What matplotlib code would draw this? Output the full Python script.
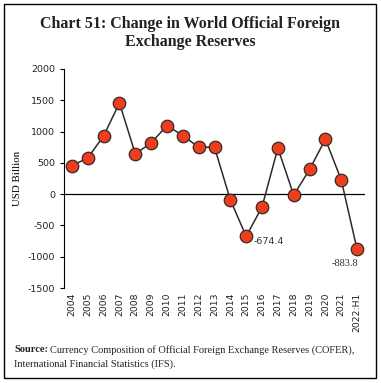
import numpy as np
import matplotlib
matplotlib.use("Agg")
import matplotlib.pyplot as plt
from matplotlib.patches import Rectangle

plt.rcParams["axes.unicode_minus"] = False

years = ["2004", "2005", "2006", "2007", "2008", "2009", "2010", "2011", "2012",
         "2013", "2014", "2015", "2016", "2017", "2018", "2019", "2020", "2021",
         "2022:H1"]
change = [455, 578, 930, 1457, 644, 818, 1096, 936, 750,
          750, -92, -674.4, -205, 736, -16, 394, 878, 229, -883.8]

fig = plt.figure(figsize=[3.81, 3.83], dpi=100)
ax = fig.add_axes([64 / 381, 1 - 288 / 383, (365 - 64) / 381, (288 - 69) / 383])

x = np.arange(len(years))
ax.plot(x, change, color="#2b2b2b", lw=1.1, marker="o", ms=9,
        mfc="#ee3d1f", mec="#3a2a22", mew=0.9, zorder=3)
ax.axhline(0, color="black", lw=0.9, zorder=1)

ax.set_xlim(-0.5, len(years) - 0.5)
ax.set_ylim(-1500, 2000)
ax.set_yticks(np.arange(-1500, 2001, 500))
ax.set_xticks(x)
ax.set_xticklabels(years, rotation=90, fontsize=6.7, color="#222222")
ax.tick_params(axis="x", length=0, pad=3)
ax.tick_params(axis="y", labelsize=6.8, length=3, width=0.8, labelcolor="#222222")
for s in ["top", "right", "bottom"]:
    ax.spines[s].set_visible(False)
ax.spines["left"].set_linewidth(0.8)
ax.set_ylabel("USD Billion", family="Liberation Serif", fontsize=7.8)
ax.yaxis.set_label_coords(-(64 - 22) / 301, 0.5)

ax.annotate("-674.4", (11, -674.4), xytext=(5, -4), textcoords="offset points",
            fontsize=6.8, color="#333333", ha="left", va="center")
ax.annotate("-883.8", (18, -883.8), xytext=(1, -10), textcoords="offset points",
            fontsize=7.5, color="#333333", ha="right", va="center",
            family="Liberation Serif")

fig.text(0.5, 1 - 33 / 383, "Chart 51: Change in World Official Foreign\nExchange Reserves",
         ha="center", va="center", family="Liberation Serif", fontweight="bold",
         fontsize=11.5, color="#222222", linespacing=1.2)

# source note: bold "Source:" followed by regular text
r = fig.canvas.get_renderer()
src = fig.text(14 / 381, 1 - 350 / 383, "Source:", ha="left", va="center",
               family="Liberation Serif", fontweight="bold", fontsize=7.5, color="#222222")
w = src.get_window_extent(r).width
fig.text(14 / 381 + (w + 2) / 381, 1 - 350 / 383,
         "Currency Composition of Official Foreign Exchange Reserves (COFER),",
         ha="left", va="center", family="Liberation Serif", fontsize=7.5, color="#222222")
fig.text(14 / 381, 1 - 364 / 383, "International Financial Statistics (IFS).",
         ha="left", va="center", family="Liberation Serif", fontsize=7.5, color="#222222")

fig.patches.append(Rectangle((4 / 381, 5 / 383), 372 / 381, 374 / 383, transform=fig.transFigure,
                             fill=False, ec="black", lw=1.0))

fig.savefig("out.png", dpi=100)
